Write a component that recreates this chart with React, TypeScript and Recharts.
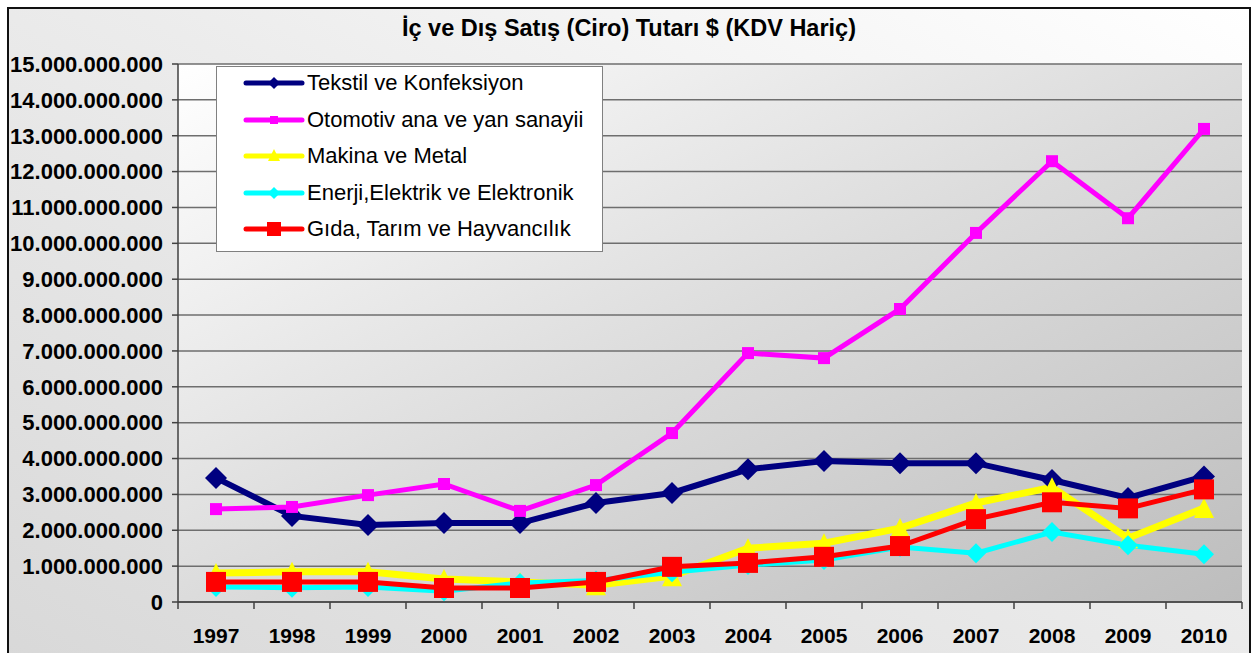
import { LineChart, Line, XAxis, YAxis, CartesianGrid } from "recharts";

const years = ["1997", "1998", "1999", "2000", "2001", "2002", "2003", "2004", "2005", "2006", "2007", "2008", "2009", "2010"];

// values in billions of $
const tekstil = [3.46, 2.4, 2.15, 2.2, 2.2, 2.76, 3.04, 3.7, 3.93, 3.87, 3.87, 3.4, 2.9, 3.5];
const otomotiv = [2.59, 2.65, 2.98, 3.29, 2.54, 3.26, 4.71, 6.94, 6.8, 8.17, 10.29, 12.29, 10.7, 13.19];
const makina = [0.81, 0.84, 0.84, 0.64, 0.56, 0.47, 0.72, 1.5, 1.64, 2.06, 2.76, 3.2, 1.78, 2.62];
const enerji = [0.42, 0.4, 0.42, 0.3, 0.53, 0.6, 0.83, 1.03, 1.17, 1.53, 1.36, 1.95, 1.58, 1.33];
const gida = [0.56, 0.56, 0.56, 0.39, 0.39, 0.56, 0.98, 1.09, 1.26, 1.56, 2.31, 2.78, 2.61, 3.14];

const yTicks = [0, 1, 2, 3, 4, 5, 6, 7, 8, 9, 10, 11, 12, 13, 14, 15].map((v) => v * 1e9);

const series = [
  { key: "tekstil", name: "Tekstil ve Konfeksiyon", color: "#000080", width: 6, shape: "diamond", size: 11, legendSize: 6 },
  { key: "otomotiv", name: "Otomotiv ana ve yan sanayii", color: "#ff00ff", width: 5, shape: "square", size: 6, legendSize: 4 },
  { key: "makina", name: "Makina ve Metal", color: "#ffff00", width: 7, shape: "triangle", size: 10, legendSize: 6 },
  { key: "enerji", name: "Enerji,Elektrik ve Elektronik", color: "#00ffff", width: 5, shape: "diamond", size: 10, legendSize: 6 },
  { key: "gida", name: "Gıda, Tarım ve Hayvancılık", color: "#ff0000", width: 5, shape: "square", size: 10, legendSize: 7 },
];

const data = years.map((year, i) => ({
  year,
  tekstil: tekstil[i] * 1e9,
  otomotiv: otomotiv[i] * 1e9,
  makina: makina[i] * 1e9,
  enerji: enerji[i] * 1e9,
  gida: gida[i] * 1e9,
}));

const FONT = '"Liberation Sans", Arial, sans-serif';
const W = 1240;
const H = 649;
const M = { top: 55, right: 7, bottom: 0, left: 0 };
const X_H = 56;
const Y_W = 169;
const PLOT_BOTTOM = H - X_H;
const HALF_BAND = (W - M.right - Y_W) / years.length / 2;

const fmt = (v: number) => String(Math.round(v)).replace(/\B(?=(\d{3})+(?!\d))/g, ".");

function markerPath(shape: string, cx: number, cy: number, s: number) {
  if (shape === "diamond") return `M${cx},${cy - s}L${cx + s},${cy}L${cx},${cy + s}L${cx - s},${cy}Z`;
  if (shape === "triangle") return `M${cx},${cy - s}L${cx + s},${cy + s}L${cx - s},${cy + s}Z`;
  return `M${cx - s},${cy - s}L${cx + s},${cy - s}L${cx + s},${cy + s}L${cx - s},${cy + s}Z`;
}

function makeDot(s: (typeof series)[number]) {
  return (props: any) => {
    const { cx, cy, index } = props;
    if (cx == null || cy == null) return <g key={`${s.key}-${index}`} />;
    return <path key={`${s.key}-${index}`} d={markerPath(s.shape, cx, cy, s.size)} fill={s.color} />;
  };
}

const XTick = (props: any) => {
  const { x, payload, index } = props;
  return (
    <g>
      <line x1={x - HALF_BAND} x2={x - HALF_BAND} y1={PLOT_BOTTOM} y2={PLOT_BOTTOM + 7} stroke="#404040" strokeWidth={1.5} />
      {index === years.length - 1 && (
        <line x1={x + HALF_BAND} x2={x + HALF_BAND} y1={PLOT_BOTTOM} y2={PLOT_BOTTOM + 7} stroke="#404040" strokeWidth={1.5} />
      )}
      <text x={x} y={PLOT_BOTTOM + 41} textAnchor="middle" fontFamily={FONT} fontSize={21} fontWeight="bold" fill="#000">
        {payload.value}
      </text>
    </g>
  );
};

function LegendBox() {
  return (
    <div
      style={{
        position: "absolute",
        left: 207,
        top: 57,
        width: 387,
        height: 186,
        background: "#fff",
        border: "1.5px solid #808080",
        boxSizing: "border-box",
        fontFamily: FONT,
      }}
    >
      {series.map((s, i) => (
        <div key={s.key} style={{ position: "absolute", left: 0, top: 6 + i * 36.6, height: 20, display: "flex", alignItems: "center" }}>
          <svg width={62} height={20} style={{ marginLeft: 26 }}>
            <line x1={3} x2={59} y1={10} y2={10} stroke={s.color} strokeWidth={5} strokeLinecap="round" />
            <path d={markerPath(s.shape, 31, s.shape === "triangle" ? 9 : 10, s.legendSize)} fill={s.color} />
          </svg>
          <span style={{ fontSize: 22, marginLeft: 2, color: "#000", whiteSpace: "nowrap" }}>{s.name}</span>
        </div>
      ))}
    </div>
  );
}

export default function App() {
  return (
    <div
      style={{
        position: "absolute",
        left: 7,
        top: 7,
        width: W + 4,
        height: 670,
        border: "2px solid #111",
        boxSizing: "border-box",
        overflow: "hidden",
        background: "linear-gradient(to bottom left, #ffffff 0%, #ececec 45%, #d8d8d8 100%)",
      }}
    >
      <div
        style={{
          position: "absolute",
          left: 0,
          top: 6,
          width: W,
          textAlign: "center",
          fontFamily: FONT,
          fontWeight: "bold",
          fontSize: 23.5,
          lineHeight: "26px",
          color: "#000",
        }}
      >
        İç ve Dış Satış (Ciro) Tutarı $ (KDV Hariç)
      </div>
      <LineChart width={W} height={H} data={data} margin={M}>
        <defs>
          <linearGradient id="plotBg" x1="0" y1="0" x2="1" y2="1">
            <stop offset="0%" stopColor="#ffffff" />
            <stop offset="50%" stopColor="#dcdcdc" />
            <stop offset="100%" stopColor="#bdbdbd" />
          </linearGradient>
        </defs>
        <CartesianGrid vertical={false} fill="url(#plotBg)" fillOpacity={1} stroke="#6e6e6e" strokeWidth={1.5} />
        <XAxis
          dataKey="year"
          height={X_H}
          interval={0}
          padding={{ left: HALF_BAND, right: HALF_BAND }}
          tickLine={false}
          axisLine={{ stroke: "#404040", strokeWidth: 1.5 }}
          tick={<XTick />}
        />
        <YAxis
          width={Y_W}
          domain={[0, 15e9]}
          ticks={yTicks}
          interval={0}
          tickFormatter={fmt}
          tickSize={6}
          tickMargin={9}
          axisLine={{ stroke: "#404040", strokeWidth: 1.5 }}
          tickLine={{ stroke: "#404040", strokeWidth: 1.5 }}
          tick={{ fontFamily: FONT, fontSize: 22, fontWeight: "bold", fill: "#000" }}
        />
        <YAxis yAxisId="r" orientation="right" width={0} tick={false} tickLine={false} axisLine={{ stroke: "#808080", strokeWidth: 2 }} />
        {series.map((s) => (
          <Line
            key={s.key}
            dataKey={s.key}
            name={s.name}
            stroke={s.color}
            strokeWidth={s.width}
            dot={makeDot(s)}
            activeDot={false}
            isAnimationActive={false}
          />
        ))}
      </LineChart>
      <LegendBox />
    </div>
  );
}
